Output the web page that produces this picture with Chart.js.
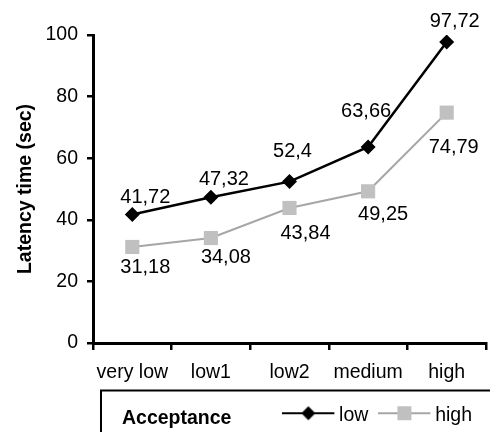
<!DOCTYPE html>
<html>
<head>
<meta charset="utf-8">
<script src="https://cdn.jsdelivr.net/npm/chart.js@4.4.1/dist/chart.umd.min.js"></script>
<style>
html, body { margin: 0; padding: 0; background: #fff; overflow: hidden; }
#wrap { width: 490px; height: 432px; overflow: hidden; }
canvas { display: block; }
</style>
</head>
<body>
<div id="wrap"><canvas id="latency" width="496" height="435"></canvas></div>
<script>
//Acceptance levels and latency per level (sec)
var levels = ['very low', 'low1', 'low2', 'medium', 'high'];
var lowLatency = [41.72, 47.32, 52.4, 63.66, 97.72];
var highLatency = [31.18, 34.08, 43.84, 49.25, 74.79];
var yTicks = [0, 20, 40, 60, 80, 100];

//Value label offsets from each point (px), per dataset
var labelShift = [
	[[13, -12], [13, -12], [3, -25], [-2, -30], [8, -15]],
	[[13, 26], [15, 25], [16, 31], [15, 29], [7, 40]]
];

var FONT = "'Liberation Sans', Arial, sans-serif";
Chart.defaults.font.family = FONT;
Chart.defaults.font.size = 19.5;
Chart.defaults.color = '#000';

//Legend swatch: line with marker in the middle
function legendSample(lineColor, markColor, shape) {
	var c = document.createElement('canvas');
	c.width = 58;
	c.height = 20;
	var g = c.getContext('2d');
	g.strokeStyle = lineColor;
	g.lineWidth = 2;
	g.beginPath();
	g.moveTo(0, 8);
	g.lineTo(52, 8);
	g.stroke();
	g.fillStyle = markColor;
	if (shape == 'diamond') {
		g.beginPath();
		g.moveTo(26, 1);
		g.lineTo(33, 8);
		g.lineTo(26, 15);
		g.lineTo(19, 8);
		g.closePath();
		g.fill();
	} else {
		g.fillRect(19, 1, 14, 14);
	}
	return c;
}
var samples = [legendSample('#000', '#000', 'diamond'), legendSample('#a6a6a6', '#c0c0c0', 'square')];

//Number labels next to the points, comma decimals
var valueLabels = {
	id: 'valueLabels',
	afterDatasetsDraw: function(chart) {
		var ctx = chart.ctx;
		ctx.save();
		ctx.font = '20px ' + FONT;
		ctx.fillStyle = '#000';
		ctx.textAlign = 'center';
		ctx.textBaseline = 'alphabetic';
		chart.data.datasets.forEach(function(ds, d) {
			chart.getDatasetMeta(d).data.forEach(function(pt, i) {
				var s = labelShift[d][i];
				ctx.fillText(String(ds.data[i]).replace('.', ','), pt.x + s[0], pt.y + s[1]);
			});
		});
		ctx.restore();
	}
};

//Frame round the legend with its heading
var acceptanceBox = {
	id: 'acceptanceBox',
	afterDraw: function(chart) {
		var ctx = chart.ctx;
		var left = chart.chartArea.left + 8;
		var top = chart.legend.top + 6;
		ctx.save();
		ctx.strokeStyle = '#000';
		ctx.lineWidth = 2;
		ctx.strokeRect(left, top, 500, 100);
		ctx.font = 'bold 19.5px ' + FONT;
		ctx.fillStyle = '#000';
		ctx.fillText('Acceptance', left + 21, top + 28);
		ctx.restore();
	}
};

var latencychart = new Chart(document.getElementById('latency'), {
	type: 'line',
	data: {
		labels: levels,
		datasets: [{
			label: 'low',
			data: lowLatency,
			borderColor: '#000',
			backgroundColor: '#000',
			borderWidth: 2.5,
			pointStyle: 'rectRot',
			pointRadius: 7.5,
			pointBorderWidth: 0,
			tension: 0
		},{
			label: 'high',
			data: highLatency,
			borderColor: '#a6a6a6',
			backgroundColor: '#c0c0c0',
			pointBackgroundColor: '#c0c0c0',
			borderWidth: 2,
			pointStyle: 'rect',
			pointRadius: 10,
			pointBorderWidth: 0,
			tension: 0
		}]
	},
	options: {
		responsive: false,
		animation: false,
		events: [],
		layout: {
			padding: { top: 35, right: 3, left: 0, bottom: 0 }
		},
		scales: {
			y: {
				min: 0,
				max: 100,
				afterBuildTicks: function(s) {
					s.ticks = yTicks.map(function(v) { return { value: v }; });
				},
				afterFit: function(s) { s.width = 93; },
				border: { color: '#000', width: 3 },
				grid: { drawOnChartArea: false, color: '#000', lineWidth: 2.5, tickLength: 6 },
				ticks: { color: '#000', padding: 9 },
				title: {
					display: true,
					text: 'Latency time (sec)',
					font: { weight: 'bold' },
					padding: { top: 13.6, bottom: 0 }
				}
			},
			x: {
				offset: true,
				afterFit: function(s) { s.height = 41.5; },
				border: { color: '#000', width: 3 },
				grid: { drawOnChartArea: false, offset: true, color: '#000', lineWidth: 2.5, tickLength: 7 },
				ticks: { color: '#000', padding: 11, maxRotation: 0, autoSkip: false }
			}
		},
		plugins: {
			tooltip: { enabled: false },
			legend: {
				position: 'bottom',
				align: 'end',
				labels: {
					usePointStyle: true,
					pointStyleWidth: 36,
					padding: 21,
					color: '#000',
					generateLabels: function(chart) {
						return Chart.defaults.plugins.legend.labels.generateLabels(chart).map(function(item, i) {
							item.pointStyle = samples[i];
							return item;
						});
					}
				}
			}
		}
	},
	plugins: [valueLabels, acceptanceBox]
});
</script>
</body>
</html>
